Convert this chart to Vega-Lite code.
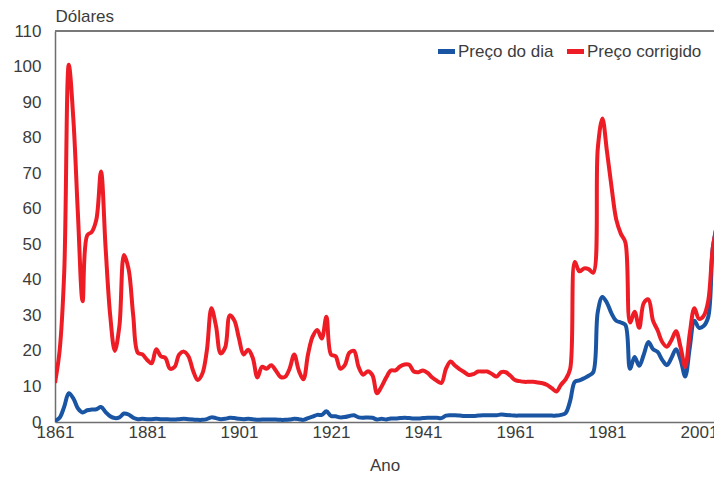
{
  "$schema": "https://vega.github.io/schema/vega-lite/v6.json",
  "width": 659,
  "height": 391,
  "autosize": "none",
  "padding": {"left": 55, "top": 31, "right": 0, "bottom": 57},
  "background": "white",
  "config": {
    "view": {"stroke": null},
    "font": "Liberation Sans",
    "axis": {
      "grid": false,
      "ticks": false,
      "labelOverlap": false,
      "domainColor": "#6e6e6e",
      "domainWidth": 1.5,
      "labelFont": "Liberation Sans",
      "labelFontSize": 17,
      "labelColor": "#3c3c3c",
      "titleFont": "Liberation Sans",
      "titleFontSize": 17,
      "titleColor": "#3c3c3c",
      "titleFontWeight": "normal"
    },
    "axisX": {"labelPadding": 2, "titlePadding": 17, "labelFlush": false},
    "axisY": {"labelPadding": 14, "titleAngle": 0, "titleAlign": "left", "titleBaseline": "alphabetic", "titleX": 0, "titleY": -10},
    "legend": {"labelFont": "Liberation Sans", "labelFontSize": 17, "labelColor": "#3c3c3c"}
  },
  "data": {"values": [
    {"ano":1861,"dia":0.3,"corrigido":11},
    {"ano":1862,"dia":1.2,"corrigido":20},
    {"ano":1863,"dia":4.3,"corrigido":42},
    {"ano":1864,"dia":8.1,"corrigido":100.5},
    {"ano":1865,"dia":6.6,"corrigido":85},
    {"ano":1866,"dia":3.8,"corrigido":58},
    {"ano":1867,"dia":2.7,"corrigido":34},
    {"ano":1868,"dia":3.3,"corrigido":52.5},
    {"ano":1869,"dia":3.5,"corrigido":53.5},
    {"ano":1870,"dia":3.6,"corrigido":57},
    {"ano":1871,"dia":4.2,"corrigido":70.5},
    {"ano":1872,"dia":2.8,"corrigido":49},
    {"ano":1873,"dia":1.6,"corrigido":30},
    {"ano":1874,"dia":1.1,"corrigido":20},
    {"ano":1875,"dia":1.3,"corrigido":27},
    {"ano":1876,"dia":2.4,"corrigido":47},
    {"ano":1877,"dia":2.1,"corrigido":43},
    {"ano":1878,"dia":1.2,"corrigido":30},
    {"ano":1879,"dia":0.8,"corrigido":19.5},
    {"ano":1880,"dia":0.9,"corrigido":19},
    {"ano":1881,"dia":0.8,"corrigido":17.5},
    {"ano":1882,"dia":0.8,"corrigido":16.5},
    {"ano":1883,"dia":0.9,"corrigido":20.5},
    {"ano":1884,"dia":0.8,"corrigido":18.5},
    {"ano":1885,"dia":0.8,"corrigido":18},
    {"ano":1886,"dia":0.7,"corrigido":15},
    {"ano":1887,"dia":0.7,"corrigido":15.5},
    {"ano":1888,"dia":0.8,"corrigido":19},
    {"ano":1889,"dia":0.9,"corrigido":19.8},
    {"ano":1890,"dia":0.8,"corrigido":18.5},
    {"ano":1891,"dia":0.7,"corrigido":14.5},
    {"ano":1892,"dia":0.6,"corrigido":11.8},
    {"ano":1893,"dia":0.6,"corrigido":13.5},
    {"ano":1894,"dia":0.8,"corrigido":20},
    {"ano":1895,"dia":1.3,"corrigido":32},
    {"ano":1896,"dia":1.1,"corrigido":27},
    {"ano":1897,"dia":0.8,"corrigido":19.3},
    {"ano":1898,"dia":0.9,"corrigido":21},
    {"ano":1899,"dia":1.2,"corrigido":30},
    {"ano":1900,"dia":1.1,"corrigido":28.5},
    {"ano":1901,"dia":0.9,"corrigido":23.5},
    {"ano":1902,"dia":0.8,"corrigido":19},
    {"ano":1903,"dia":0.9,"corrigido":20.3},
    {"ano":1904,"dia":0.8,"corrigido":18},
    {"ano":1905,"dia":0.6,"corrigido":12.5},
    {"ano":1906,"dia":0.7,"corrigido":15.5},
    {"ano":1907,"dia":0.7,"corrigido":15},
    {"ano":1908,"dia":0.7,"corrigido":16},
    {"ano":1909,"dia":0.7,"corrigido":14.5},
    {"ano":1910,"dia":0.6,"corrigido":12.7},
    {"ano":1911,"dia":0.6,"corrigido":12.7},
    {"ano":1912,"dia":0.7,"corrigido":15},
    {"ano":1913,"dia":0.9,"corrigido":19},
    {"ano":1914,"dia":0.8,"corrigido":14.5},
    {"ano":1915,"dia":0.6,"corrigido":12},
    {"ano":1916,"dia":1.1,"corrigido":19},
    {"ano":1917,"dia":1.5,"corrigido":24},
    {"ano":1918,"dia":2.0,"corrigido":25.9},
    {"ano":1919,"dia":2.0,"corrigido":23.5},
    {"ano":1920,"dia":3.0,"corrigido":29.6},
    {"ano":1921,"dia":1.7,"corrigido":19},
    {"ano":1922,"dia":1.6,"corrigido":18.5},
    {"ano":1923,"dia":1.3,"corrigido":15},
    {"ano":1924,"dia":1.4,"corrigido":16},
    {"ano":1925,"dia":1.7,"corrigido":19.5},
    {"ano":1926,"dia":1.9,"corrigido":20},
    {"ano":1927,"dia":1.3,"corrigido":15.5},
    {"ano":1928,"dia":1.2,"corrigido":13.3},
    {"ano":1929,"dia":1.3,"corrigido":14.3},
    {"ano":1930,"dia":1.2,"corrigido":13.2},
    {"ano":1931,"dia":0.7,"corrigido":8.1},
    {"ano":1932,"dia":0.9,"corrigido":10},
    {"ano":1933,"dia":0.7,"corrigido":12.5},
    {"ano":1934,"dia":1.0,"corrigido":14.5},
    {"ano":1935,"dia":1.0,"corrigido":14.5},
    {"ano":1936,"dia":1.1,"corrigido":15.6},
    {"ano":1937,"dia":1.2,"corrigido":16.2},
    {"ano":1938,"dia":1.1,"corrigido":16.1},
    {"ano":1939,"dia":1.0,"corrigido":14.2},
    {"ano":1940,"dia":1.0,"corrigido":14},
    {"ano":1941,"dia":1.1,"corrigido":14.5},
    {"ano":1942,"dia":1.2,"corrigido":13.8},
    {"ano":1943,"dia":1.2,"corrigido":12.5},
    {"ano":1944,"dia":1.2,"corrigido":11.6},
    {"ano":1945,"dia":1.1,"corrigido":11},
    {"ano":1946,"dia":1.8,"corrigido":15},
    {"ano":1947,"dia":1.9,"corrigido":17},
    {"ano":1948,"dia":1.9,"corrigido":15.8},
    {"ano":1949,"dia":1.8,"corrigido":14.8},
    {"ano":1950,"dia":1.7,"corrigido":14},
    {"ano":1951,"dia":1.7,"corrigido":13.2},
    {"ano":1952,"dia":1.7,"corrigido":13.5},
    {"ano":1953,"dia":1.8,"corrigido":14.2},
    {"ano":1954,"dia":1.9,"corrigido":14.2},
    {"ano":1955,"dia":1.9,"corrigido":14.2},
    {"ano":1956,"dia":1.9,"corrigido":13.5},
    {"ano":1957,"dia":1.9,"corrigido":12.8},
    {"ano":1958,"dia":2.1,"corrigido":14},
    {"ano":1959,"dia":2.0,"corrigido":14},
    {"ano":1960,"dia":1.9,"corrigido":13},
    {"ano":1961,"dia":1.8,"corrigido":11.8},
    {"ano":1962,"dia":1.8,"corrigido":11.5},
    {"ano":1963,"dia":1.8,"corrigido":11.3},
    {"ano":1964,"dia":1.8,"corrigido":11.3},
    {"ano":1965,"dia":1.8,"corrigido":11.3},
    {"ano":1966,"dia":1.8,"corrigido":11.1},
    {"ano":1967,"dia":1.8,"corrigido":10.9},
    {"ano":1968,"dia":1.8,"corrigido":10.4},
    {"ano":1969,"dia":1.8,"corrigido":9.5},
    {"ano":1970,"dia":1.8,"corrigido":8.6},
    {"ano":1971,"dia":2.0,"corrigido":10.5},
    {"ano":1972,"dia":2.5,"corrigido":12},
    {"ano":1973,"dia":6,"corrigido":15},
    {"ano":1974,"dia":11.3,"corrigido":45},
    {"ano":1975,"dia":11.7,"corrigido":42.4},
    {"ano":1976,"dia":12.3,"corrigido":43.2},
    {"ano":1977,"dia":13,"corrigido":43},
    {"ano":1978,"dia":14,"corrigido":42},
    {"ano":1979,"dia":31,"corrigido":77},
    {"ano":1980,"dia":35.2,"corrigido":85.4},
    {"ano":1981,"dia":33.5,"corrigido":76},
    {"ano":1982,"dia":30.5,"corrigido":66},
    {"ano":1983,"dia":28.5,"corrigido":57},
    {"ano":1984,"dia":28,"corrigido":53},
    {"ano":1985,"dia":27.3,"corrigido":50.5},
    {"ano":1986,"dia":15,"corrigido":28},
    {"ano":1987,"dia":18.3,"corrigido":31},
    {"ano":1988,"dia":15.8,"corrigido":26.5},
    {"ano":1989,"dia":19,"corrigido":33.5},
    {"ano":1990,"dia":22.5,"corrigido":34.5},
    {"ano":1991,"dia":20.5,"corrigido":28.5},
    {"ano":1992,"dia":19.7,"corrigido":25.8},
    {"ano":1993,"dia":17.5,"corrigido":22.5},
    {"ano":1994,"dia":16,"corrigido":21.2},
    {"ano":1995,"dia":18,"corrigido":23},
    {"ano":1996,"dia":20.5,"corrigido":25.5},
    {"ano":1997,"dia":17.5,"corrigido":21},
    {"ano":1998,"dia":12.8,"corrigido":15.5},
    {"ano":1999,"dia":21,"corrigido":25},
    {"ano":2000,"dia":28.5,"corrigido":32},
    {"ano":2001,"dia":26.5,"corrigido":29},
    {"ano":2002,"dia":27,"corrigido":29.8},
    {"ano":2003,"dia":29.5,"corrigido":34},
    {"ano":2004,"dia":49,"corrigido":49},
    {"ano":2005,"dia":56,"corrigido":56}
  ]},
  "layer": [
    {
      "mark": {"type": "rule", "color": "#7a7a7a", "strokeWidth": 1.5},
      "encoding": {
        "y": {"datum": 110, "type": "quantitative", "title": "Dólares",
          "scale": {"domain": [0, 110], "nice": false},
          "axis": {"values": [0, 10, 20, 30, 40, 50, 60, 70, 80, 90, 100, 110], "labelOverlap": false}}
      }
    },
    {
      "mark": {"type": "line", "interpolate": "catmull-rom", "strokeWidth": 4, "strokeJoin": "round", "clip": true},
      "encoding": {
        "x": {"field": "ano", "type": "quantitative", "title": "Ano",
          "scale": {"domain": [1861, 2004.26], "nice": false, "zero": false},
          "axis": {"values": [1861, 1881, 1901, 1921, 1941, 1961, 1981, 2001], "format": "d", "labelOverlap": false}},
        "y": {"field": "dia", "type": "quantitative", "title": "Dólares",
          "axis": {"values": [0, 10, 20, 30, 40, 50, 60, 70, 80, 90, 100, 110], "labelOverlap": false}},
        "color": {"datum": "Preço do dia",
          "scale": {"domain": ["Preço do dia", "Preço corrigido"], "range": ["#1a55a3", "#ee1c25"]},
          "legend": {"orient": "none", "legendX": 380, "legendY": 9, "direction": "horizontal", "title": null,
            "gridAlign": "none", "symbolType": "stroke", "symbolStrokeWidth": 5, "symbolSize": 290, "labelOffset": 0, "columnPadding": 2, "padding": 0}}
      }
    },
    {
      "mark": {"type": "line", "interpolate": "catmull-rom", "strokeWidth": 4, "strokeJoin": "round", "clip": true},
      "encoding": {
        "x": {"field": "ano", "type": "quantitative", "title": "Ano",
          "axis": {"values": [1861, 1881, 1901, 1921, 1941, 1961, 1981, 2001], "format": "d", "labelOverlap": false}},
        "y": {"field": "corrigido", "type": "quantitative", "title": "Dólares",
          "axis": {"values": [0, 10, 20, 30, 40, 50, 60, 70, 80, 90, 100, 110], "labelOverlap": false}},
        "color": {"datum": "Preço corrigido"}
      }
    }
  ]
}
